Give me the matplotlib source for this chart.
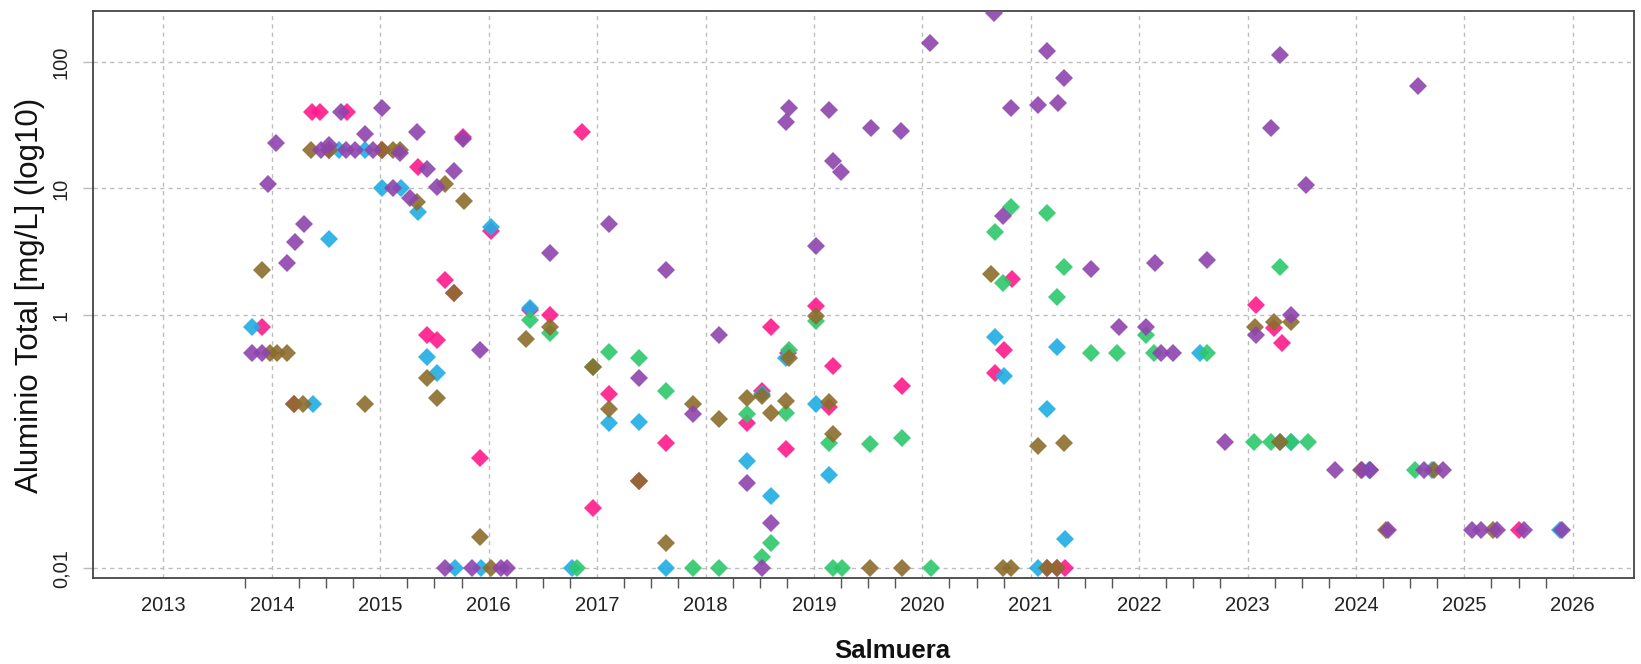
import numpy as np
import matplotlib
matplotlib.use("Agg")
import matplotlib.pyplot as plt
from matplotlib.ticker import FixedLocator, NullLocator

plt.rcParams['font.family'] = ['Liberation Sans', 'DejaVu Sans']

# fechas como año decimal, Aluminio total en mg/L
morado_x = [2013.82, 2013.91, 2013.96, 2014.04, 2014.14, 2014.21, 2014.30, 2014.45, 2014.53, 2014.64,
            2014.68, 2014.77, 2014.86, 2014.93, 2015.02, 2015.12, 2015.18, 2015.27, 2015.34, 2015.43,
            2015.52, 2015.60, 2015.68, 2015.76, 2015.85, 2015.92, 2016.11, 2016.17, 2016.57, 2017.11,
            2017.39, 2017.64, 2017.88, 2018.12, 2018.38, 2018.52, 2018.60, 2018.74, 2018.77, 2019.02,
            2019.14, 2019.18, 2019.25, 2019.53, 2019.80, 2020.07, 2020.66, 2020.74, 2020.82, 2021.07,
            2021.15, 2021.25, 2021.31, 2021.56, 2021.81, 2022.06, 2022.15, 2022.20, 2022.31, 2022.63,
            2022.79, 2023.08, 2023.22, 2023.30, 2023.40, 2023.54, 2023.81, 2024.06, 2024.13, 2024.30,
            2024.57, 2024.63, 2024.80, 2025.07, 2025.15, 2025.30, 2025.55, 2025.90]
morado_y = [0.5, 0.5, 10.8, 23, 2.6, 3.8, 5.2, 20, 22, 40,
            20, 20, 27, 20, 43, 10, 19, 8.4, 27.7, 14.2,
            10.3, 0.01, 13.7, 24.4, 0.01, 0.53, 0.01, 0.01, 3.1, 5.2,
            0.32, 2.27, 0.165, 0.70, 0.047, 0.01, 0.023, 33.7, 43.5, 3.5,
            42, 16.5, 13.6, 29.8, 28.6, 142, 242, 6.1, 43, 45.4,
            122, 47.5, 74.5, 2.3, 0.8, 0.8, 2.6, 0.5, 0.5, 2.7,
            0.1, 0.7, 30.2, 113, 1.0, 10.6, 0.06, 0.06, 0.06, 0.02,
            64, 0.06, 0.06, 0.02, 0.02, 0.02, 0.02, 0.02]

rosa_x = [2013.91, 2014.20, 2014.37, 2014.44, 2014.53, 2014.69, 2015.02, 2015.35, 2015.43, 2015.52,
          2015.60, 2015.68, 2015.76, 2015.92, 2016.02, 2016.38, 2016.57, 2016.86, 2016.96, 2017.11,
          2017.39, 2017.64, 2018.38, 2018.52, 2018.60, 2018.74, 2018.76, 2019.02, 2019.14, 2019.18,
          2019.81, 2020.67, 2020.75, 2020.83, 2021.15, 2021.24, 2021.32, 2023.08, 2023.24, 2023.32,
          2024.13, 2025.50]
rosa_y = [0.8, 0.2, 40, 40, 20, 40, 20, 14.9, 0.7, 0.64,
          1.9, 1.49, 25.6, 0.075, 4.6, 1.1, 1.0, 27.8, 0.030, 0.24,
          0.049, 0.097, 0.14, 0.25, 0.8, 0.088, 0.5, 1.18, 0.187, 0.4,
          0.275, 0.35, 0.53, 1.92, 0.01, 0.01, 0.01, 1.2, 0.79, 0.6,
          0.06, 0.02]

celeste_x = [2013.82, 2014.38, 2014.53, 2014.62, 2014.86, 2015.02, 2015.19, 2015.35, 2015.43, 2015.52,
             2015.69, 2015.93, 2016.02, 2016.38, 2016.77, 2017.11, 2017.39, 2017.64, 2018.38, 2018.52,
             2018.60, 2018.74, 2019.02, 2019.14, 2020.67, 2020.75, 2021.07, 2021.15, 2021.24, 2021.32,
             2022.56, 2023.30, 2023.40, 2024.12, 2024.70, 2025.88]
celeste_y = [0.8, 0.2, 4.0, 20, 20, 10, 10, 6.5, 0.47, 0.35,
             0.01, 0.01, 5.0, 1.13, 0.01, 0.14, 0.144, 0.01, 0.07, 0.24,
             0.037, 0.46, 0.2, 0.055, 0.67, 0.33, 0.01, 0.18, 0.56, 0.017,
             0.5, 0.1, 0.1, 0.06, 0.06, 0.02]

oliva_x = [2013.91, 2013.98, 2014.05, 2014.14, 2014.20, 2014.29, 2014.36, 2014.53, 2014.86, 2015.02,
           2015.12, 2015.18, 2015.34, 2015.43, 2015.52, 2015.60, 2015.68, 2015.77, 2015.92, 2016.02,
           2016.34, 2016.57, 2016.96, 2017.11, 2017.39, 2017.64, 2017.88, 2018.12, 2018.38, 2018.52,
           2018.60, 2018.74, 2018.77, 2019.02, 2019.14, 2019.18, 2019.52, 2019.81, 2020.63, 2020.74,
           2020.82, 2021.07, 2021.15, 2021.24, 2021.31, 2023.07, 2023.24, 2023.30, 2023.40, 2024.05,
           2024.28, 2024.72, 2025.26]
oliva_y = [2.27, 0.5, 0.5, 0.5, 0.2, 0.2, 20, 20, 0.2, 20,
           20, 20, 7.8, 0.32, 0.22, 10.8, 1.49, 8.0, 0.0178, 0.01,
           0.65, 0.8, 0.39, 0.18, 0.049, 0.016, 0.20, 0.15, 0.22, 0.23,
           0.17, 0.21, 0.46, 0.98, 0.207, 0.115, 0.01, 0.01, 2.1, 0.01,
           0.01, 0.092, 0.01, 0.01, 0.097, 0.81, 0.89, 0.1, 0.88, 0.06,
           0.02, 0.06, 0.02]

verde_x = [2016.38, 2016.57, 2016.81, 2016.96, 2017.11, 2017.39, 2017.64, 2017.88, 2018.12, 2018.38,
           2018.52, 2018.60, 2018.74, 2018.77, 2019.02, 2019.14, 2019.18, 2019.26, 2019.52, 2019.81,
           2020.08, 2020.67, 2020.74, 2020.82, 2021.15, 2021.24, 2021.31, 2021.56, 2021.80, 2022.06,
           2022.14, 2022.63, 2023.06, 2023.22, 2023.30, 2023.40, 2023.56, 2024.54]
verde_y = [0.91, 0.72, 0.01, 0.39, 0.51, 0.46, 0.25, 0.01, 0.01, 0.166,
           0.0122, 0.016, 0.17, 0.53, 0.9, 0.097, 0.01, 0.01, 0.096, 0.108,
           0.01, 4.5, 1.78, 7.2, 6.4, 1.38, 2.4, 0.5, 0.5, 0.7,
           0.5, 0.5, 0.1, 0.1, 2.4, 0.1, 0.1, 0.06]

anios = list(range(2013, 2027))

W, H = 1641, 664
fig = plt.figure(figsize=(W / 100, H / 100), dpi=100)
# caja del grafico en pixeles (izq 93, der 1633.5, arriba 11, abajo 578.3)
ax = fig.add_axes([93 / W, 1 - 578.3 / H, (1633.5 - 93) / W, (578.3 - 11) / H])

series = [(rosa_x, rosa_y, '#FF1A8C'),
          (celeste_x, celeste_y, '#1FADE3'),
          (verde_x, verde_y, '#2DC86D'),
          (oliva_x, oliva_y, '#8C6D2C'),
          (morado_x, morado_y, '#8E44AD')]
for xs, ys, col in series:
    ax.plot(xs, ys, linestyle='none', marker='D', ms=9.2, color=col,
            alpha=0.9, markeredgewidth=0, zorder=3)

ax.set_yscale('log')
ax.set_xlim(2012.35, 2026.56)
ax.set_ylim(0.00835, 252)

# grilla punteada
ax.xaxis.set_major_locator(FixedLocator(anios))
ax.set_xticklabels([str(a) for a in anios])
ax.xaxis.set_minor_locator(FixedLocator(np.arange(2013.75, 2026.01, 0.25)))
ax.yaxis.set_major_locator(FixedLocator([0.01, 1, 10, 100]))
ax.yaxis.set_minor_locator(NullLocator())
ax.set_yticklabels(['0,01', '1', '10', '100'])
ax.grid(True, which='major', linestyle=(0, (3, 3)), color='#BDBDBD', linewidth=1.0, zorder=0)
ax.set_axisbelow(True)

ax.tick_params(axis='x', which='major', length=0, pad=13, labelsize=14.5, labelcolor='#222222')
ax.tick_params(axis='x', which='minor', length=7.2, width=1.0, color='#555555')
ax.tick_params(axis='y', which='major', length=7.2, width=1.0, color='#BBBBBB', pad=9,
               labelsize=14.5, labelcolor='#222222')
for lab in ax.get_yticklabels():
    lab.set_rotation(90)
    lab.set_va('center')

for sp in ax.spines.values():
    sp.set_color('#444444')
    sp.set_linewidth(1.3)

fig.text(30 / W, 1 - 295 / H, 'Aluminio Total [mg/L] (log10)', rotation=90,
         ha='center', va='center', fontsize=22.5, color='#111111')
fig.text(892 / W, 1 - 651 / H, 'Salmuera', ha='center', va='center',
         fontsize=18.5, fontweight='bold', color='#111111')

fig.savefig('out.png', dpi=100)
